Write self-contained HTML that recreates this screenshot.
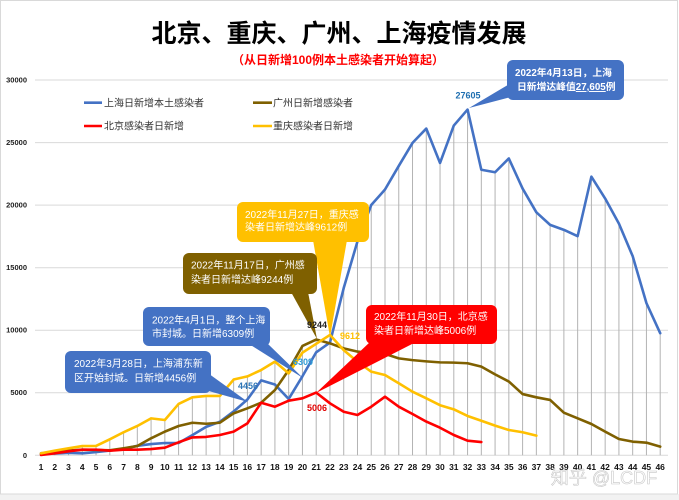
<!DOCTYPE html>
<html>
<head>
<meta charset="utf-8">
<style>
html,body{margin:0;padding:0;background:#fff;}
svg{display:block;}
</style>
</head>
<body>
<svg width="679" height="500" viewBox="0 0 679 500" xmlns="http://www.w3.org/2000/svg" font-family="'Liberation Sans','Noto Sans CJK SC',sans-serif">
  <rect x="0" y="0" width="679" height="500" fill="#ffffff"/>
  <rect x="0" y="494" width="679" height="6" fill="#f2f2f2"/>
  <rect x="0.5" y="0.5" width="677" height="493.5" fill="none" stroke="#d9d9d9" stroke-width="1"/>

  <!-- Title -->
  <text x="339" y="42" text-anchor="middle" font-size="25" font-weight="bold" fill="#000">北京、重庆、广州、上海疫情发展</text>
  <text x="338" y="64" text-anchor="middle" font-size="12" font-weight="bold" fill="#ff0000">（从日新增100例本土感染者开始算起）</text>

  <!-- Gridlines -->
  <g stroke="#d9d9d9" stroke-width="1">
    <line x1="35" y1="80" x2="668" y2="80"/>
    <line x1="35" y1="142.6" x2="668" y2="142.6"/>
    <line x1="35" y1="205.1" x2="668" y2="205.1"/>
    <line x1="35" y1="267.7" x2="668" y2="267.7"/>
    <line x1="35" y1="330.2" x2="668" y2="330.2"/>
    <line x1="35" y1="392.7" x2="668" y2="392.7"/>
    <line x1="35" y1="455.3" x2="668" y2="455.3"/>
  </g>

  <!-- Y labels -->
  <g font-size="7.5" font-weight="bold" fill="#222" text-anchor="end">
    <text x="27" y="82.5">30000</text>
    <text x="27" y="145">25000</text>
    <text x="27" y="207.6">20000</text>
    <text x="27" y="270.2">15000</text>
    <text x="27" y="332.7">10000</text>
    <text x="27" y="395.2">5000</text>
    <text x="27" y="457.8">0</text>
  </g>

  <!-- Plot group: x = day index (0-based), y = value -->
  <g transform="translate(41,455.3) scale(13.76,-0.012524)">
    <path vector-effect="non-scaling-stroke" stroke="#b3b3b3" stroke-width="1" fill="none"
      d="M0,0V169 M1,0V370 M2,0V560 M3,0V740 M4,0V745 M5,0V1280 M6,0V1840 M7,0V2340 M8,0V2950 M9,0V2820 M10,0V4100 M11,0V4630 M12,0V4740 M13,0V4740 M14,0V6050 M15,0V6300 M16,0V6810 M17,0V7480 M18,0V6810 M19,0V8730 M20,0V9244 M21,0V9612 M22,0V13354 M23,0V17077 M24,0V19982 M25,0V21222 M26,0V23107 M27,0V24944 M28,0V26087 M29,0V23342 M30,0V26330 M31,0V27605 M32,0V22800 M33,0V22600 M34,0V23700 M35,0V21300 M36,0V19400 M37,0V18400 M38,0V18000 M39,0V17500 M40,0V22250 M41,0V20500 M42,0V18500 M43,0V15900 M44,0V12150 M45,0V9750"/>
    <polyline vector-effect="non-scaling-stroke" fill="none" stroke="#4472c4" stroke-width="2.6" stroke-linejoin="round" stroke-linecap="round"
      points="0,169 1,139 2,202 3,158 4,260 5,374 6,509 7,758 8,896 9,981 10,983 11,1609 12,2269 13,2678 14,3500 15,4456 16,5982 17,5653 18,4502 19,6309 20,8226 21,9006 22,13354 23,17077 24,19982 25,21222 26,23107 27,24944 28,26087 29,23342 30,26330 31,27605 32,22800 33,22600 34,23700 35,21300 36,19400 37,18400 38,18000 39,17500 40,22250 41,20500 42,18500 43,15900 44,12150 45,9750"/>
    <polyline vector-effect="non-scaling-stroke" fill="none" stroke="#7f6000" stroke-width="2.6" stroke-linejoin="round" stroke-linecap="round"
      points="0,100 1,250 2,380 3,450 4,430 5,400 6,560 7,740 8,1360 9,1890 10,2340 11,2600 12,2520 13,2600 14,3350 15,3750 16,4200 17,5210 18,6810 19,8730 20,9244 21,8940 22,8540 23,8280 24,8140 25,8100 26,7740 27,7600 28,7500 29,7420 30,7400 31,7350 32,7080 33,6460 34,5890 35,4890 36,4630 37,4420 38,3400 39,2950 40,2500 41,1890 42,1300 43,1090 44,1010 45,690"/>
    <polyline vector-effect="non-scaling-stroke" fill="none" stroke="#ff0000" stroke-width="2.6" stroke-linejoin="round" stroke-linecap="round"
      points="0,30 1,160 2,320 3,450 4,450 5,370 6,450 7,450 8,500 9,610 10,1040 11,1430 12,1470 13,1620 14,1890 15,2550 16,4200 17,3880 18,4360 19,4550 20,5006 21,4150 22,3480 23,3220 24,3880 25,4680 26,3880 27,3300 28,2690 29,2200 30,1620 31,1170 32,1060"/>
    <polyline vector-effect="non-scaling-stroke" fill="none" stroke="#ffc000" stroke-width="2.6" stroke-linejoin="round" stroke-linecap="round"
      points="0,160 1,370 2,560 3,740 4,745 5,1280 6,1840 7,2340 8,2950 9,2820 10,4100 11,4630 12,4740 13,4740 14,6050 15,6300 16,6810 17,7480 18,6540 19,8200 20,8900 21,9612 22,8400 23,7470 24,6680 25,6410 26,5750 27,5080 28,4550 29,4000 30,3670 31,3140 32,2760 33,2370 34,2020 35,1840 36,1570"/>
  </g>

  <!-- X labels -->
  <g font-size="8.5" font-weight="bold" fill="#111" text-anchor="middle">
    <text x="41" y="470">1</text><text x="54.76" y="470">2</text><text x="68.52" y="470">3</text><text x="82.28" y="470">4</text><text x="96.04" y="470">5</text><text x="109.8" y="470">6</text><text x="123.56" y="470">7</text><text x="137.32" y="470">8</text><text x="151.08" y="470">9</text><text x="164.84" y="470">10</text><text x="178.6" y="470">11</text><text x="192.36" y="470">12</text><text x="206.12" y="470">13</text><text x="219.88" y="470">14</text><text x="233.64" y="470">15</text><text x="247.4" y="470">16</text><text x="261.16" y="470">17</text><text x="274.92" y="470">18</text><text x="288.68" y="470">19</text><text x="302.44" y="470">20</text><text x="316.2" y="470">21</text><text x="329.96" y="470">22</text><text x="343.72" y="470">23</text><text x="357.48" y="470">24</text><text x="371.24" y="470">25</text><text x="385" y="470">26</text><text x="398.76" y="470">27</text><text x="412.52" y="470">28</text><text x="426.28" y="470">29</text><text x="440.04" y="470">30</text><text x="453.8" y="470">31</text><text x="467.56" y="470">32</text><text x="481.32" y="470">33</text><text x="495.08" y="470">34</text><text x="508.84" y="470">35</text><text x="522.6" y="470">36</text><text x="536.36" y="470">37</text><text x="550.12" y="470">38</text><text x="563.88" y="470">39</text><text x="577.64" y="470">40</text><text x="591.4" y="470">41</text><text x="605.16" y="470">42</text><text x="618.92" y="470">43</text><text x="632.68" y="470">44</text><text x="646.44" y="470">45</text><text x="660.2" y="470">46</text>
  </g>

  <!-- Legend -->
  <g stroke-width="2.6">
    <line x1="84" y1="102.7" x2="102" y2="102.7" stroke="#4472c4"/>
    <line x1="253" y1="102.7" x2="272" y2="102.7" stroke="#7f6000"/>
    <line x1="84" y1="126" x2="102" y2="126" stroke="#ff0000"/>
    <line x1="253" y1="126" x2="272" y2="126" stroke="#ffc000"/>
  </g>
  <g font-size="10" fill="#333">
    <text x="104" y="106.3">上海日新增本土感染者</text>
    <text x="273" y="106.3">广州日新增感染者</text>
    <text x="104" y="129.6">北京感染者日新增</text>
    <text x="273" y="129.6">重庆感染者日新增</text>
  </g>

  <!-- Callout: Shanghai peak -->
  <polygon points="511,83 511,97 469,108" fill="#4472c4"/>
  <rect x="507" y="60" width="117" height="40" rx="6" fill="#4472c4"/>
  <g font-size="9.8" font-weight="bold" fill="#fff">
    <text x="515" y="76">2022年4月13日，上海</text>
    <text x="517" y="90">日新增达峰值<tspan text-decoration="underline">27,605</tspan>例</text>
  </g>

  <!-- Callout: Chongqing -->
  <polygon points="313,240 347,240 330,337" fill="#ffc000"/>
  <rect x="237" y="202" width="132" height="40" rx="6" fill="#ffc000"/>
  <g font-size="10" fill="#fff">
    <text x="245" y="218">2022年11月27日，重庆感</text>
    <text x="245" y="230.5">染者日新增达峰9612例</text>
  </g>

  <!-- Callout: Guangzhou -->
  <polygon points="291,292 308,292 317,339" fill="#7f6000"/>
  <rect x="183" y="253" width="134" height="41" rx="6" fill="#7f6000"/>
  <g font-size="10" fill="#fff">
    <text x="191" y="268.5">2022年11月17日，广州感</text>
    <text x="191" y="283">染者日新增达峰9244例</text>
  </g>

  <!-- Callout: Shanghai Apr 1 -->
  <polygon points="249,344 268,344 303,378" fill="#4472c4"/>
  <rect x="143" y="307" width="127" height="39" rx="6" fill="#4472c4"/>
  <g font-size="10" fill="#fff">
    <text x="152" y="323.5">2022年4月1日，整个上海</text>
    <text x="152" y="337">市封城。日新增6309例</text>
  </g>

  <!-- Callout: Shanghai Mar 28 -->
  <polygon points="205,371 205,390 248,402" fill="#4472c4"/>
  <rect x="65" y="351" width="146" height="42" rx="6" fill="#4472c4"/>
  <g font-size="10" fill="#fff">
    <text x="74" y="367">2022年3月28日，上海浦东新</text>
    <text x="74" y="381.5">区开始封城。日新增4456例</text>
  </g>

  <!-- Callout: Beijing -->
  <polygon points="370,342 416,342 316,393" fill="#ff0000"/>
  <rect x="366" y="305" width="131" height="39" rx="6" fill="#ff0000"/>
  <g font-size="10" fill="#fff">
    <text x="374" y="320">2022年11月30日，北京感</text>
    <text x="374" y="334">染者日新增达峰5006例</text>
  </g>

  <!-- Data labels -->
  <g font-size="9" font-weight="bold" text-anchor="middle">
    <text x="468" y="98.5" fill="#1f6fb0">27605</text>
    <text x="248" y="389" fill="#2e75b6">4456</text>
    <text x="303" y="365" fill="#2e9bd6">6309</text>
    <text x="317" y="328" fill="#222">9244</text>
    <text x="350" y="339" fill="#ffc000">9612</text>
    <text x="317" y="411" fill="#e00000">5006</text>
  </g>

  <!-- Watermark -->
  <text x="604" y="484" text-anchor="middle" font-size="18" fill="#ffffff" fill-opacity="0.85" stroke="#c8c8c8" stroke-width="0.6">知乎 @LCDF</text>
</svg>
</body>
</html>
